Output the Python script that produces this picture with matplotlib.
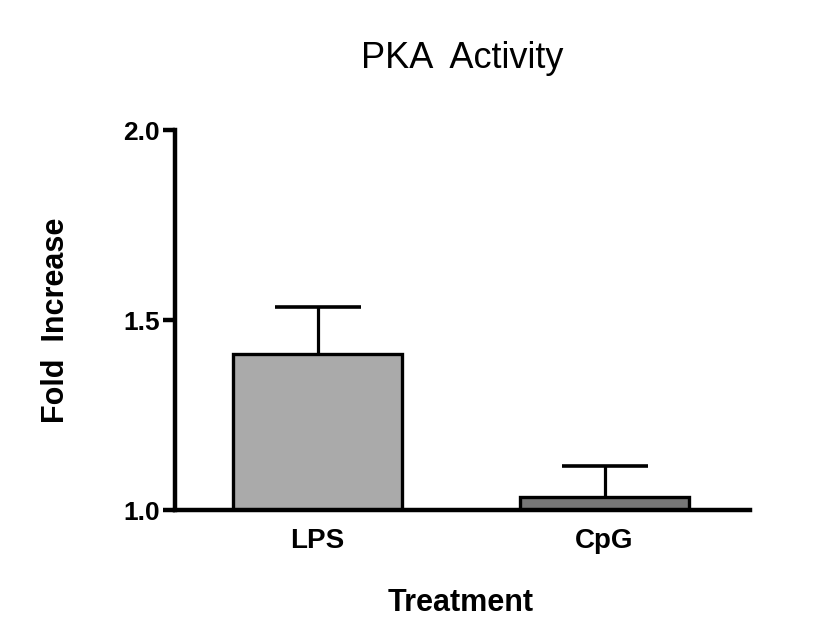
import matplotlib
matplotlib.use("Agg")
import matplotlib.pyplot as plt
import numpy as np

plt.rcParams['font.family'] = ['Liberation Sans', 'DejaVu Sans']

treatments = ["LPS", "CpG"]
fold = [1.41, 1.034]
sem = [0.124, 0.082]
bar_colors = ["#aaaaaa", "#777777"]

fig = plt.figure(figsize=(8.2, 6.4), dpi=100)
ax = fig.add_axes([0.2134, 0.2031, 0.7012, 0.59375])

x = np.arange(len(treatments))
base = 1.0
heights = [v - base for v in fold]
ax.bar(x, heights, bottom=base, width=0.59, color=bar_colors,
       edgecolor="black", linewidth=2.4, zorder=2)
# symmetric bars drawn behind the columns, so only the upper half shows
ax.errorbar(x, fold, yerr=sem, fmt="none", ecolor="black",
            elinewidth=2.3, capsize=31, capthick=2.6, zorder=1)

ax.set_xlim(-0.497, 1.507)
ax.set_ylim(1.0, 2.0)
ax.set_yticks([1.0, 1.5, 2.0])
ax.set_yticklabels(["1.0", "1.5", "2.0"], fontsize=19, fontweight="bold")
ax.set_xticks(x)
ax.set_xticklabels(treatments, fontsize=20, fontweight="bold")

for s in ["top", "right"]:
    ax.spines[s].set_visible(False)
for s in ["left", "bottom"]:
    ax.spines[s].set_linewidth(3.2)
    ax.spines[s].set_zorder(3)
ax.spines["left"].set_capstyle("projecting")
ax.tick_params(axis="y", length=9, width=3.2, pad=2)
ax.tick_params(axis="x", length=0, pad=13)

ax.set_xlabel("Treatment", fontsize=22, fontweight="bold")
ax.xaxis.set_label_coords(0.497, -0.205)
ax.set_ylabel("Fold  Increase", fontsize=22, fontweight="bold")
ax.yaxis.set_label_coords(-0.181, 0.5)
ax.set_title("PKA  Activity", fontsize=26, pad=45)

plt.savefig("out.png", dpi=100)
